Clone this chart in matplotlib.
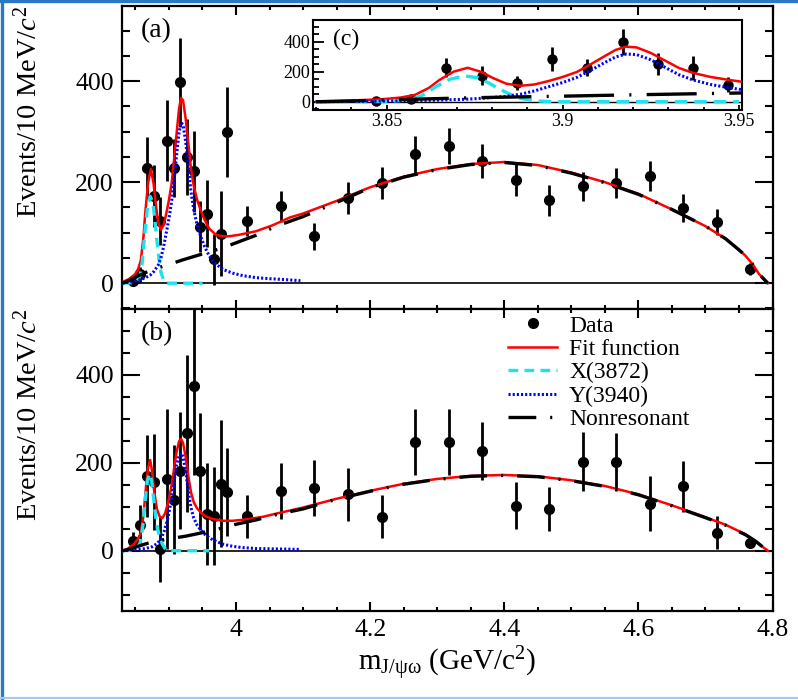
import matplotlib
matplotlib.use("Agg")
import matplotlib.pyplot as plt
from matplotlib.lines import Line2D
from matplotlib.ticker import MultipleLocator, FuncFormatter

plt.rcParams['font.family'] = ['Liberation Serif', 'DejaVu Serif']
plt.rcParams['mathtext.fontset'] = 'custom'
plt.rcParams['mathtext.rm'] = 'Liberation Serif'
plt.rcParams['mathtext.it'] = 'Liberation Serif:italic'
plt.rcParams['lines.scale_dashes'] = False

# bin centres: 10 MeV bins up to 3.99, then 50 MeV bins (scaled per 10 MeV)
fine_mass = [3.847, 3.857, 3.867, 3.877, 3.887, 3.897, 3.907, 3.917, 3.927,
             3.937, 3.947, 3.957, 3.967, 3.977, 3.987]
coarse_mass = [4.017, 4.067, 4.117, 4.167, 4.217, 4.267, 4.317, 4.367, 4.417,
               4.467, 4.517, 4.567, 4.617, 4.667, 4.717, 4.767]
mass = fine_mass + coarse_mass

a_counts = [4, 18, 228, 173, 123, 282, 228, 398, 250, 222, 112, 138, 47, 98, 299,
            123, 152, 93, 169, 199, 255, 272, 242, 205, 164, 192, 199, 212, 149, 121, 28]
a_errors = [8, 15, 62, 62, 47, 80, 57, 88, 75, 80, 50, 66, 50, 84, 89,
            29, 31, 27, 32, 32, 36, 35, 33, 32, 30, 29, 30, 30, 27, 25, 12]

b_counts = [23, 59, 170, 155, 4, 163, 116, 182, 267, 373, 180, 84, 78, 152, 133,
            78, 135, 143, 128, 77, 247, 246, 227, 102, 95, 202, 202, 107, 146, 41, 17]
b_errors = [19, 45, 93, 109, 75, 158, 124, 133, 178, 200, 133, 116, 111, 144, 100,
            49, 64, 64, 60, 49, 74, 75, 66, 53, 50, 67, 66, 62, 57, 37, 10]

# fit components, panel (a)
a_fit_x = [3.830, 3.840, 3.849, 3.854, 3.858, 3.862, 3.865, 3.869, 3.873, 3.877,
           3.880, 3.884, 3.888, 3.892, 3.896, 3.900, 3.904, 3.908, 3.912, 3.915,
           3.918, 3.921, 3.925, 3.929, 3.933, 3.937, 3.942, 3.947, 3.953, 3.960,
           3.970, 3.980, 3.990, 4.005, 4.030, 4.055, 4.080, 4.100, 4.150, 4.200,
           4.250, 4.300, 4.350, 4.400, 4.450, 4.500, 4.550, 4.600, 4.650, 4.700,
           4.730, 4.750, 4.760, 4.770, 4.780, 4.793]
a_fit_y = [2, 8, 17, 28, 45, 92, 145, 200, 226, 198,
           160, 120, 106, 115, 138, 165, 198, 250, 305, 345,
           367, 362, 325, 275, 225, 192, 165, 146, 126, 108,
           96, 93, 93, 96, 103, 115, 130, 138, 163, 190,
           211, 226, 236, 240, 234, 219, 200, 177, 146, 113,
           88, 66, 54, 38, 18, 0]
a_x3872_x = [3.830, 3.845, 3.852, 3.857, 3.860, 3.864, 3.868, 3.872, 3.876, 3.879,
             3.882, 3.885, 3.888, 3.892, 3.897, 3.950]
a_x3872_y = [0, 1, 4, 15, 40, 100, 150, 172, 160, 125, 85, 50, 22, 6, 0, 0]
a_y3940_x = [3.830, 3.845, 3.855, 3.865, 3.872, 3.878, 3.884, 3.888, 3.892, 3.896,
             3.900, 3.904, 3.908, 3.912, 3.915, 3.918, 3.921, 3.925, 3.929, 3.933,
             3.937, 3.942, 3.947, 3.953, 3.960, 3.970, 3.981, 3.995, 4.010, 4.030,
             4.050, 4.075, 4.096]
a_y3940_y = [0, 3, 6, 11, 16, 24, 36, 50, 72, 100,
             128, 162, 210, 262, 298, 318, 314, 280, 230, 180,
             145, 115, 94, 73, 54, 38, 27, 20, 15, 11,
             9, 7, 5]
a_nonres_x = [3.830, 3.835, 3.840, 3.845, 3.850, 3.860, 3.870, 3.880, 3.900, 3.920,
              3.940, 3.960, 3.980, 4.000, 4.030, 4.060, 4.100, 4.150, 4.200, 4.250,
              4.300, 4.350, 4.400, 4.450, 4.500, 4.550, 4.600, 4.650, 4.700, 4.730,
              4.750, 4.760, 4.770, 4.780, 4.793]
a_nonres_y = [0, 2, 5, 8, 12, 18, 24, 29, 37, 46,
              54, 62, 70, 80, 95, 113, 132, 160, 189, 210,
              225, 235, 239, 233, 218, 199, 176, 146, 113, 88,
              66, 54, 38, 18, 0]

# fit components, panel (b)
b_fit_x = [3.830, 3.838, 3.847, 3.853, 3.858, 3.862, 3.866, 3.869, 3.872, 3.875,
           3.878, 3.882, 3.886, 3.890, 3.894, 3.898, 3.903, 3.907, 3.911, 3.915,
           3.918, 3.921, 3.925, 3.929, 3.933, 3.937, 3.942, 3.948, 3.955, 3.965,
           3.980, 3.995, 4.015, 4.040, 4.065, 4.100, 4.150, 4.200, 4.250, 4.300,
           4.350, 4.400, 4.450, 4.500, 4.550, 4.600, 4.650, 4.700, 4.730, 4.760,
           4.775, 4.785, 4.793]
b_fit_y = [0, 4, 14, 25, 40, 80, 150, 190, 206, 180,
           135, 95, 78, 74, 84, 105, 140, 180, 222, 248,
           254, 245, 212, 168, 132, 110, 96, 86, 78, 72,
           68, 68, 71, 77, 86, 98, 118, 136, 152, 163,
           170, 172, 169, 160, 147, 128, 103, 76, 59, 37,
           22, 9, 0]
b_x3872_x = [3.830, 3.845, 3.852, 3.857, 3.861, 3.865, 3.868, 3.871, 3.874, 3.877,
             3.880, 3.883, 3.886, 3.890, 3.895, 3.900, 3.960]
b_x3872_y = [0, 1, 5, 18, 55, 120, 160, 175, 160, 120, 80, 50, 32, 15, 3, 0, 0]
b_y3940_x = [3.830, 3.850, 3.865, 3.875, 3.882, 3.888, 3.893, 3.898, 3.903, 3.907,
             3.911, 3.915, 3.918, 3.921, 3.925, 3.929, 3.933, 3.937, 3.942, 3.948,
             3.955, 3.965, 3.980, 3.995, 4.010, 4.030, 4.060, 4.096]
b_y3940_y = [0, 2, 5, 9, 16, 26, 45, 72, 110, 150,
             192, 216, 222, 213, 179, 134, 97, 74, 58, 46,
             35, 25, 15, 10, 7, 5, 4, 3]
b_nonres_x = [3.830, 3.835, 3.840, 3.850, 3.860, 3.875, 3.900, 3.925, 3.950, 3.975,
              4.000, 4.030, 4.060, 4.100, 4.150, 4.200, 4.250, 4.300, 4.350, 4.400,
              4.450, 4.500, 4.550, 4.600, 4.650, 4.700, 4.730, 4.760, 4.775, 4.785,
              4.793]
b_nonres_y = [0, 1, 3, 8, 13, 20, 27, 33, 41, 50,
              60, 70, 82, 95, 117, 135, 151, 162, 169, 171,
              168, 159, 146, 127, 102, 75, 58, 36, 21, 9,
              0]

CYAN = '#1de3ee'
BLUE = '#0000ff'
RED = '#ff0000'
NONRES_DASH = (0, (20, 10, 1.5, 10))
NONRES_DASH_INSET = (0, (36, 11, 1.5, 11))


def draw_curves(ax, fit, x3872, y3940, nonres, inset=False):
    cyan_ls = (0, (9, 5)) if inset else (0, (7, 4.5))
    ax.plot(fit[0], fit[1], color=RED, lw=1.8, zorder=4)
    ax.plot(x3872[0], x3872[1], color=CYAN, lw=2.4, ls=cyan_ls, zorder=5)
    ax.plot(y3940[0], y3940[1], color=BLUE, lw=2.2, ls=(0, (1.5, 1.5)), zorder=5)
    ax.plot(nonres[0], nonres[1], color='k', lw=2.4,
            ls=NONRES_DASH_INSET if inset else NONRES_DASH,
            dash_capstyle='butt', zorder=6)


def style_main(ax, ylim, show_xlabels):
    ax.set_xlim(3.83, 4.80)
    ax.set_ylim(*ylim)
    ax.xaxis.set_major_locator(MultipleLocator(0.2))
    ax.xaxis.set_minor_locator(MultipleLocator(0.05))
    ax.yaxis.set_major_locator(MultipleLocator(200))
    ax.yaxis.set_minor_locator(MultipleLocator(50))
    ax.xaxis.set_major_formatter(FuncFormatter(lambda v, _: f"{v:g}"))
    ax.tick_params(which='both', direction='in', top=True, right=True,
                   width=1.5, labelsize=18.5, labelbottom=show_xlabels)
    ax.tick_params(axis='x', which='major', length=6.5, pad=6)
    ax.tick_params(axis='x', which='minor', length=3)
    ax.tick_params(axis='y', which='major', length=13, pad=6)
    ax.tick_params(axis='y', which='minor', length=6)
    for sp in ax.spines.values():
        sp.set_linewidth(1.6)
    ax.axhline(0, color='k', lw=1.2, zorder=1)
    ax.text(-0.1445, 1.0, r'Events/10 MeV/$c^2$', transform=ax.transAxes,
            rotation=90, ha='center', va='top', fontsize=20.5)


fig = plt.figure(figsize=(7.98, 7.0), dpi=100)
ax_a = fig.add_axes([0.1529, 0.5586, 0.8152, 0.4329])
ax_b = fig.add_axes([0.1529, 0.1271, 0.8152, 0.4315])
ax_c = fig.add_axes([0.3918, 0.8429, 0.5384, 0.1286])

# panel (a)
style_main(ax_a, (-51, 549), False)
ax_a.errorbar(mass, a_counts, yerr=a_errors, fmt='o', color='k', ms=7,
              elinewidth=2.0, capsize=0, zorder=3)
draw_curves(ax_a, (a_fit_x, a_fit_y), (a_x3872_x, a_x3872_y),
            (a_y3940_x, a_y3940_y), (a_nonres_x, a_nonres_y))
ax_a.text(0.053, 0.918, '(a)', transform=ax_a.transAxes, fontsize=20,
          ha='center', va='center')

# panel (b)
style_main(ax_b, (-137, 549), True)
ax_b.errorbar(mass, b_counts, yerr=b_errors, fmt='o', color='k', ms=7,
              elinewidth=2.0, capsize=0, zorder=3)
draw_curves(ax_b, (b_fit_x, b_fit_y), (b_x3872_x, b_x3872_y),
            (b_y3940_x, b_y3940_y), (b_nonres_x, b_nonres_y))
ax_b.text(0.053, 0.9175, '(b)', transform=ax_b.transAxes, fontsize=20,
          ha='center', va='center')
ax_b.set_xlabel(r'm$_{\mathrm{J/ψω}}$ (GeV/c$^{2}$)', fontsize=21, labelpad=2)

handles = [
    Line2D([], [], ls='none', marker='o', ms=7, color='k'),
    Line2D([], [], color=RED, lw=1.8),
    Line2D([], [], color=CYAN, lw=2.4, ls=(0, (7, 4.5))),
    Line2D([], [], color=BLUE, lw=2.2, ls=(0, (1.5, 1.5))),
    Line2D([], [], color='k', lw=2.4, ls=NONRES_DASH, dash_capstyle='butt'),
]
labels = ['Data', 'Fit function', 'X(3872)', 'Y(3940)', 'Nonresonant']
ax_b.legend(handles, labels, loc='upper left', bbox_to_anchor=(0.593, 0.98),
            frameon=False, fontsize=17, borderpad=0, borderaxespad=0,
            handlelength=2.1, handletextpad=0.5, labelspacing=0.08)

# inset (c): close-up of the low-mass region of (a)
ax_c.set_facecolor('white')
ax_c.set_zorder(10)
ax_c.set_xlim(3.829, 3.951)
ax_c.set_ylim(-55, 545)
ax_c.errorbar(fine_mass, a_counts[:len(fine_mass)], yerr=a_errors[:len(fine_mass)],
              fmt='o', color='k', ms=6.5, elinewidth=2.0, capsize=0, zorder=3)
draw_curves(ax_c, (a_fit_x, a_fit_y), (a_x3872_x, a_x3872_y),
            (a_y3940_x, a_y3940_y), (a_nonres_x, a_nonres_y), inset=True)
ax_c.axhline(0, color='k', lw=1.0, zorder=1)
ax_c.xaxis.set_major_locator(MultipleLocator(0.05))
ax_c.xaxis.set_minor_locator(MultipleLocator(0.01))
ax_c.yaxis.set_major_locator(MultipleLocator(200))
ax_c.yaxis.set_minor_locator(MultipleLocator(50))
ax_c.xaxis.set_major_formatter(FuncFormatter(lambda v, _: f"{v:g}"))
ax_c.tick_params(which='both', direction='in', width=1.3, labelsize=13)
ax_c.tick_params(axis='y', which='major', length=8, pad=2)
ax_c.tick_params(axis='y', which='minor', length=4.3)
ax_c.tick_params(axis='x', which='major', length=3.5, pad=2)
ax_c.tick_params(axis='x', which='minor', length=2)
for sp in ax_c.spines.values():
    sp.set_linewidth(1.5)
ax_c.text(0.079, 0.786, '(c)', transform=ax_c.transAxes, fontsize=17,
          ha='center', va='center')

# page frame
fig.add_artist(Line2D([0.002, 0.002], [0, 1], transform=fig.transFigure,
                      color='#2a77c6', lw=2.4))
fig.add_artist(Line2D([0, 1], [0.998, 0.998], transform=fig.transFigure,
                      color='#2a77c6', lw=2.4))
fig.add_artist(Line2D([0, 1], [0.003, 0.003], transform=fig.transFigure,
                      color='#a6c8ea', lw=1.6))

fig.savefig('out.png', dpi=100)
